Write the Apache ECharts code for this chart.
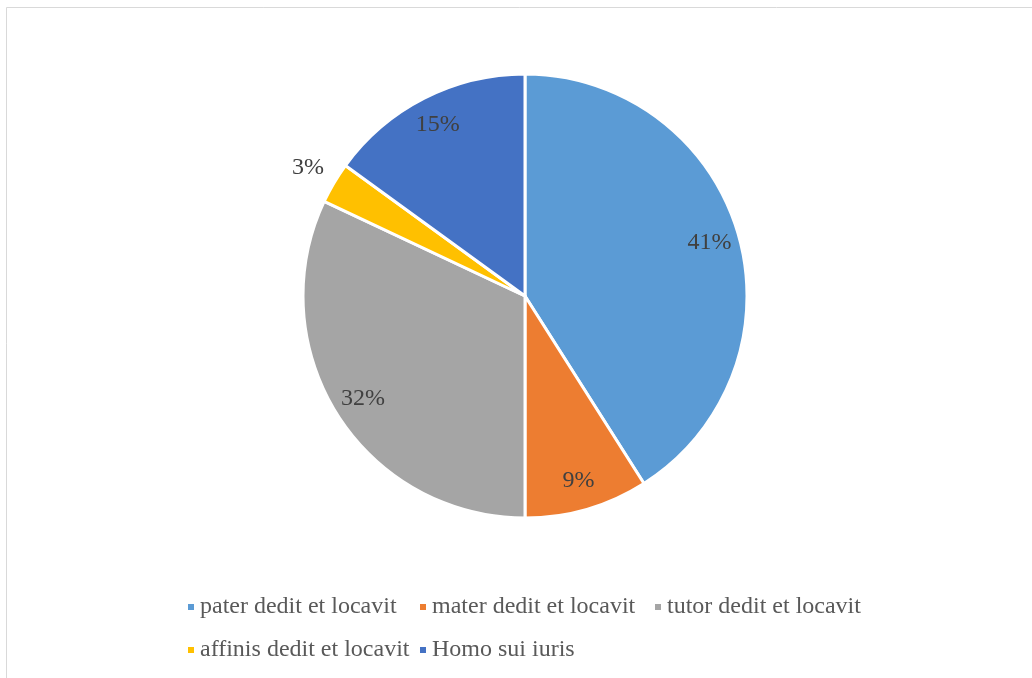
<!DOCTYPE html>
<html>
<head>
<meta charset="utf-8">
<script src="https://cdn.jsdelivr.net/npm/echarts@6/dist/echarts.min.js"></script>
<style>
  html, body { margin: 0; padding: 0; background: #ffffff; }
  #chart { width: 1032px; height: 678px; }
</style>
</head>
<body>
<div id="chart"></div>
<script>
// Shares of contracts by who gave and leased (percent)
const categories = [
  'pater dedit et locavit',
  'mater dedit et locavit',
  'tutor dedit et locavit',
  'affinis dedit et locavit',
  'Homo sui iuris'
];
const shares = [41, 9, 32, 3, 15];
const colors = ['#5B9BD5', '#ED7D31', '#A5A5A5', '#FFC000', '#4472C4'];

// Legend columns (rows wrap into aligned columns)
const legendColumns = [
  [categories[0], categories[3]],
  [categories[1], categories[4]],
  [categories[2]]
];
const legendColumnLeft = [186, 418, 653];

// Label for the small slice sits outside the pie
const outsideLabelIndex = 3;

const FONT = '"Liberation Serif", "Times New Roman", serif';
const CENTER = [525, 296];
const R = 222;

const sliceData = categories.map((name, i) => ({
  name: name,
  value: shares[i],
  itemStyle: { color: colors[i] }
}));

const innerLabelData = categories.map((name, i) => ({
  name: name,
  value: shares[i],
  label: { show: i !== outsideLabelIndex }
}));

const outerLabelData = categories.map((name, i) => ({
  name: name,
  value: shares[i],
  label: { show: i === outsideLabelIndex }
}));

const labelStyle = {
  position: 'inner',
  formatter: '{c}%',
  fontFamily: FONT,
  fontSize: 24,
  color: '#404040'
};

const chart = echarts.init(document.getElementById('chart'), null, { renderer: 'canvas' });

chart.setOption({
  backgroundColor: '#ffffff',
  animation: false,
  graphic: [{
    type: 'rect',
    shape: { x: 6.5, y: 7.5, width: 2000, height: 2000 },
    style: { fill: 'none', stroke: '#d9d9d9', lineWidth: 1 },
    silent: true,
    z: -1
  }],
  legend: legendColumns.map((col, k) => ({
    data: col,
    orient: 'vertical',
    left: legendColumnLeft[k],
    top: 595,
    padding: 0,
    itemGap: 19,
    itemWidth: 8,
    itemHeight: 8,
    icon: 'rect',
    textStyle: { fontFamily: FONT, fontSize: 24, color: '#595959', lineHeight: 24 }
  })),
  series: [
    {
      name: 'slices',
      type: 'pie',
      center: CENTER,
      radius: [0, R],
      startAngle: 90,
      clockwise: true,
      avoidLabelOverlap: false,
      label: { show: false },
      labelLine: { show: false },
      itemStyle: { borderColor: '#ffffff', borderWidth: 3 },
      emphasis: { disabled: true },
      data: sliceData
    },
    {
      name: 'innerLabels',
      type: 'pie',
      center: CENTER,
      radius: [156, R],
      startAngle: 90,
      clockwise: true,
      silent: true,
      avoidLabelOverlap: false,
      itemStyle: { color: 'rgba(0,0,0,0)' },
      label: labelStyle,
      labelLine: { show: false },
      emphasis: { disabled: true },
      data: innerLabelData
    },
    {
      name: 'outerLabels',
      type: 'pie',
      center: CENTER,
      radius: [226, 272],
      startAngle: 90,
      clockwise: true,
      silent: true,
      avoidLabelOverlap: false,
      itemStyle: { color: 'rgba(0,0,0,0)' },
      label: labelStyle,
      labelLine: { show: false },
      emphasis: { disabled: true },
      data: outerLabelData
    }
  ]
});
</script>
</body>
</html>
